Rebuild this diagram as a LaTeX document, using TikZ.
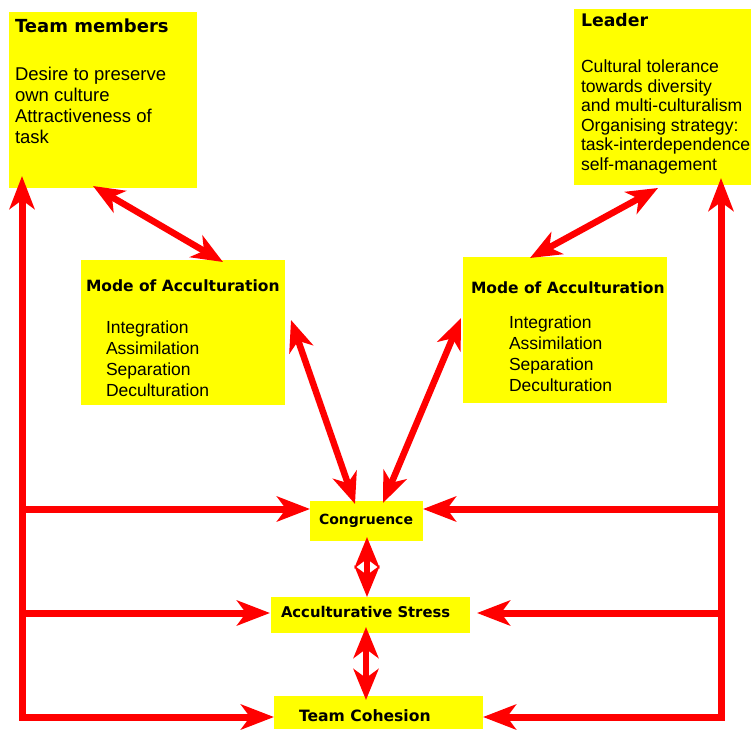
\documentclass[tikz,border=0pt]{standalone}
\usepackage{fontspec}
\setmainfont{Liberation Sans}
\newfontfamily\hfont{DejaVu Sans}
\usetikzlibrary{arrows.meta}
\definecolor{boxyellow}{HTML}{FFFF00}
\definecolor{arrred}{HTML}{FF0000}
\tikzset{
  ybox/.style={fill=boxyellow, draw=none, inner sep=0pt, outer sep=0pt, anchor=north west},
  txt/.style={inner sep=0pt, outer sep=0pt, anchor=base west, align=left, text=black},
  arr/.style={draw=arrred, line width=7pt, line join=miter, {Stealth[length=33pt,width=25pt,inset=9pt]}-{Stealth[length=33pt,width=25pt,inset=9pt]}},
  arrone/.style={draw=arrred, line width=7pt, -{Stealth[length=33pt,width=25pt,inset=9pt]}},
  darr/.style={draw=arrred, line width=6.5pt, {Stealth[length=31pt,width=25pt,inset=9pt]}-{Stealth[length=31pt,width=25pt,inset=9pt]}},
}
\begin{document}
\begin{tikzpicture}[x=1pt,y=-1pt]
\useasboundingbox (0,0) rectangle (752,729);
% boxes
\node[ybox, minimum width=188pt, minimum height=176pt] (tm) at (9,12) {};
\node[ybox, minimum width=177pt, minimum height=176pt] (ld) at (574,9) {};
\node[ybox, minimum width=204pt, minimum height=145pt] (ml) at (81,260) {};
\node[ybox, minimum width=204pt, minimum height=146pt] (mr) at (463,257) {};
\node[ybox, minimum width=113pt, minimum height=40pt] (cg) at (310,501) {};
\node[ybox, minimum width=199pt, minimum height=36pt] (as) at (271,597) {};
\node[ybox, minimum width=209pt, minimum height=33pt] (tc) at (274,696) {};
% texts (multi-line nodes: base = last line)
\node[txt, font=\hfont\bfseries\fontsize{18}{21}\selectfont] (tmh) at (15,32) {Team members};
\node[txt, font=\fontsize{18.5}{21}\selectfont] (tmb) at (15,143) {Desire to preserve\\own culture\\Attractiveness of\\task};
\node[txt, font=\hfont\bfseries\fontsize{17.3}{20}\selectfont] (ldh) at (581,26) {Leader};
\node[txt, font=\fontsize{17.6}{19.5}\selectfont] (ldb) at (581,170) {Cultural tolerance\\towards diversity\\and multi-culturalism\\Organising strategy:\\task-interdependence\\self-management};
\node[txt, font=\hfont\bfseries\fontsize{15.5}{18}\selectfont] (mlh) at (86,291) {Mode of Acculturation};
\node[txt, font=\fontsize{17.5}{21}\selectfont] (mlb) at (106,396) {Integration\\Assimilation\\Separation\\Deculturation};
\node[txt, font=\hfont\bfseries\fontsize{15.5}{18}\selectfont] (mrh) at (471,293) {Mode of Acculturation};
\node[txt, font=\fontsize{17.5}{21}\selectfont] (mrb) at (509,391) {Integration\\Assimilation\\Separation\\Deculturation};
\node[txt, font=\hfont\bfseries\fontsize{14}{16}\selectfont] (cgt) at (319,524) {Congruence};
\node[txt, font=\hfont\bfseries\fontsize{14.8}{17}\selectfont] (ast) at (281,617) {Acculturative Stress};
\node[txt, font=\hfont\bfseries\fontsize{15.6}{18}\selectfont] (tct) at (299,721) {Team Cohesion};
% connector end points
\coordinate (tmTip) at (22,176);
\coordinate (lCorner) at (22,717);
\coordinate (lMid1) at (22,509);
\coordinate (lMid2) at (22,613);
\coordinate (tcL) at (274,717);
\coordinate (cgL) at (310,509);
\coordinate (asL) at (270,613);
\coordinate (ldTip) at (721,178);
\coordinate (rCorner) at (721,717);
\coordinate (rMid1) at (721,509);
\coordinate (rMid2) at (721,613);
\coordinate (tcR) at (483,717);
\coordinate (cgR) at (423,509);
\coordinate (asR) at (477,613);
\coordinate (tmD) at (93,186);
\coordinate (mlU) at (223,262);
\coordinate (ldD) at (658,188);
\coordinate (mrU) at (530,258);
\coordinate (mlR) at (291,320);
\coordinate (cgUL) at (355,504);
\coordinate (mrL) at (461,318);
\coordinate (cgUR) at (383,503);
\coordinate (cgD) at (367,537);
\coordinate (asU) at (367,597);
\coordinate (asD) at (366,627);
\coordinate (tcU) at (366,700);
% connectors
\draw[arr] (tmTip) -- (lCorner) -- (tcL);
\draw[arrone] (lMid1) -- (cgL);
\draw[arrone] (lMid2) -- (asL);
\draw[arr] (ldTip) -- (rCorner) -- (tcR);
\draw[arrone] (rMid1) -- (cgR);
\draw[arrone] (rMid2) -- (asR);
\draw[darr] (tmD) -- (mlU);
\draw[darr] (ldD) -- (mrU);
\draw[darr] (mlR) -- (cgUL);
\draw[darr] (mrL) -- (cgUR);
\draw[darr] (cgD) -- (asU);
\draw[darr] (asD) -- (tcU);
\end{tikzpicture}
\end{document}
